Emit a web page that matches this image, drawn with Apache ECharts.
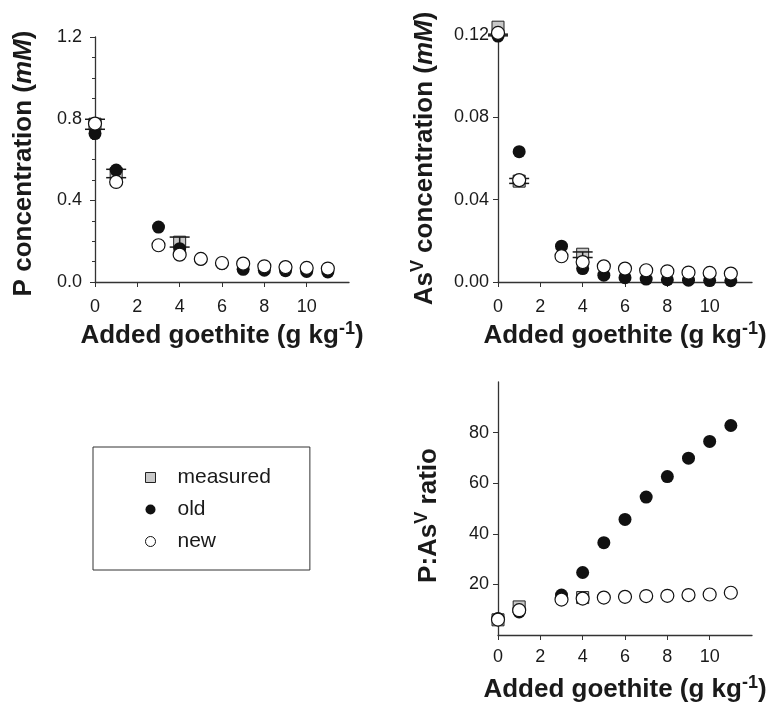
<!DOCTYPE html>
<html>
<head>
<meta charset="utf-8">
<title>P and AsV vs added goethite</title>
<script src="https://cdn.jsdelivr.net/npm/echarts@6/dist/echarts.min.js"></script>
<style>
  html, body { margin: 0; padding: 0; background: #fff; }
  #chart { width: 778px; height: 708px; }
</style>
</head>
<body>
<div id="chart"></div>
<script>
// goethite doses (g kg-1)
const goethite = [0, 1, 3, 4, 5, 6, 7, 8, 9, 10, 11];
const measuredDose = [0, 1, 4];
const xTicks = [0, 2, 4, 6, 8, 10];

// P concentration (mM)
const pOld = [0.727, 0.548, 0.269, 0.163, 0.112, 0.09, 0.062, 0.058, 0.055, 0.052, 0.049];
const pNew = [0.776, 0.49, 0.18, 0.134, 0.113, 0.093, 0.09, 0.077, 0.073, 0.069, 0.066];
const pMeasured = [0.773, 0.53, 0.195];
const pErrLow = [0.748, 0.511, 0.171];
const pErrHigh = [0.797, 0.552, 0.22];

// AsV concentration (mM)
const asOld = [0.1195, 0.0633, 0.0174, 0.0065, 0.0033, 0.0021, 0.0014, 0.0011, 0.0009, 0.0007, 0.0006];
const asNew = [0.121, 0.0495, 0.0125, 0.0097, 0.0076, 0.0065, 0.0057, 0.0052, 0.0046, 0.0044, 0.0041];
const asMeasured = [0.1238, 0.049, 0.0135];
const asErrLow = [0.1196, 0.0479, 0.0119];
const asErrHigh = [0.1204, 0.0503, 0.0146];

// P:AsV ratio
const ratioOld = [6.5, 9.1, 15.8, 24.7, 36.5, 45.7, 54.5, 62.6, 69.9, 76.5, 82.8];
const ratioNew = [6.1, 9.8, 14.0, 14.4, 14.8, 15.1, 15.4, 15.5, 15.8, 16.0, 16.7];
const ratioMeasured = [6.0, 11.1, 14.8];
const ratioTicks = [20, 40, 60, 80];

const ink = "#1a1a1a";
const axisColor = "#333";
const titleFont = "Liberation Sans";

function pairs(xs, ys) {
    return xs.map((x, i) => [x, ys[i]]);
}

function renderErrorBar(params, api) {
    const x = api.value(0);
    const lo = api.coord([x, api.value(1)]);
    const hi = api.coord([x, api.value(2)]);
    const hw = 10;
    const style = { stroke: ink, lineWidth: 1.5 };
    return {
        type: "group",
        children: [
            { type: "line", shape: { x1: lo[0], y1: lo[1], x2: hi[0], y2: hi[1] }, style },
            { type: "line", shape: { x1: lo[0] - hw, y1: lo[1], x2: lo[0] + hw, y2: lo[1] }, style },
            { type: "line", shape: { x1: hi[0] - hw, y1: hi[1], x2: hi[0] + hw, y2: hi[1] }, style }
        ]
    };
}

const titleRich = {
    b: { fontFamily: titleFont, fontWeight: "bold", fontSize: 26, color: ink },
    it: { fontFamily: titleFont, fontWeight: "bold", fontStyle: "italic", fontSize: 26, color: ink },
    sup: { fontFamily: titleFont, fontWeight: "bold", fontSize: 18, color: ink, padding: [0, 0, 14, 0] }
};

function xAxis(index, nameGap, labelMargin) {
    return {
        type: "value",
        gridIndex: index,
        min: 0,
        max: 12,
        interval: 2,
        name: "{b|Added goethite (g kg}{sup|-1}{b|)}",
        nameLocation: "middle",
        nameGap: nameGap,
        nameTextStyle: { rich: titleRich },
        axisLine: { show: true, lineStyle: { color: axisColor, width: 1.3 } },
        axisTick: { show: true, length: 5, customValues: xTicks, lineStyle: { color: axisColor } },
        axisLabel: { customValues: xTicks, margin: labelMargin, fontSize: 18, color: ink, fontFamily: "Liberation Sans" },
        splitLine: { show: false }
    };
}

function yAxis(index, cfg) {
    return Object.assign({
        type: "value",
        gridIndex: index,
        min: 0,
        nameLocation: "middle",
        axisLine: { show: true, lineStyle: { color: axisColor, width: 1.3 } },
        axisTick: { show: true, length: 5, lineStyle: { color: axisColor } },
        axisLabel: { fontSize: 18, color: ink, fontFamily: "Liberation Sans" },
        splitLine: { show: false }
    }, cfg);
}

function panelSeries(index, measured, errLow, errHigh, oldVals, newVals) {
    const list = [
        {
            type: "scatter", name: "measured", xAxisIndex: index, yAxisIndex: index,
            symbol: "rect", symbolSize: 12, z: 2, clip: false,
            itemStyle: { color: "#c8c8c8", borderColor: "#222", borderWidth: 1, opacity: 1 },
            data: pairs(measuredDose, measured)
        }
    ];
    if (errLow) {
        list.push({
            type: "custom", name: "error", xAxisIndex: index, yAxisIndex: index,
            renderItem: renderErrorBar, z: 3, silent: true, clip: false,
            encode: { x: 0, y: [1, 2] },
            data: measuredDose.map((x, i) => [x, errLow[i], errHigh[i]])
        });
    }
    list.push({
        type: "scatter", name: "old", xAxisIndex: index, yAxisIndex: index,
        symbol: "circle", symbolSize: 13, z: 4, clip: false,
        itemStyle: { color: "#111", opacity: 1 },
        data: pairs(goethite, oldVals)
    });
    list.push({
        type: "scatter", name: "new", xAxisIndex: index, yAxisIndex: index,
        symbol: "circle", symbolSize: 13, z: 5, clip: false,
        itemStyle: { color: "#fff", borderColor: "#111", borderWidth: 1.2, opacity: 1 },
        data: pairs(goethite, newVals)
    });
    return list;
}

const chart = echarts.init(document.getElementById("chart"), null, { renderer: "canvas" });

chart.setOption({
    animation: false,
    backgroundColor: "#fff",
    textStyle: { fontFamily: "Liberation Sans" },
    legend: {
        data: ["measured", "old", "new"],
        orient: "vertical",
        left: 93,
        top: 447,
        padding: [20, 39, 18, 52],
        itemGap: 11,
        itemWidth: 10,
        itemHeight: 10,
        borderColor: "#333",
        borderWidth: 1,
        itemStyle: { borderWidth: 1 },
        textStyle: { fontSize: 21, lineHeight: 21, color: ink, padding: [0, 0, 0, 17] }
    },
    grid: [
        { left: 95, top: 37, width: 254, height: 245, outerBoundsMode: "none" },
        { left: 498, top: 35, width: 254, height: 247, outerBoundsMode: "none" },
        { left: 498, top: 382, width: 254, height: 253, outerBoundsMode: "none" }
    ],
    xAxis: [xAxis(0, 38, 16), xAxis(1, 38, 16), xAxis(2, 39, 13)],
    yAxis: [
        yAxis(0, {
            max: 1.2, interval: 0.4,
            name: "{b|P concentration (}{it|mM}{b|)}",
            nameGap: 58,
            nameTextStyle: { rich: titleRich, padding: [0, 8, 0, 0] },
            minorTick: { show: true, splitNumber: 4, length: 3, lineStyle: { color: axisColor } },
            axisLabel: { fontSize: 18, color: ink, margin: 13, formatter: (v) => v.toFixed(1) }
        }),
        yAxis(1, {
            max: 0.12, interval: 0.04,
            name: "{b|As}{sup|V}{b| concentration (}{it|mM}{b|)}",
            nameGap: 57,
            nameTextStyle: { rich: titleRich },
            axisLabel: { fontSize: 18, color: ink, margin: 9, formatter: (v) => v.toFixed(2) }
        }),
        yAxis(2, {
            max: 100, interval: 20,
            name: "{b|P:As}{sup|V}{b| ratio}",
            nameGap: 53,
            nameTextStyle: { rich: titleRich, padding: [0, 14, 0, 0] },
            axisTick: { show: true, length: 5, customValues: ratioTicks, lineStyle: { color: axisColor } },
            axisLabel: { fontSize: 18, color: ink, margin: 9, customValues: ratioTicks }
        })
    ],
    series: [
        ...panelSeries(0, pMeasured, pErrLow, pErrHigh, pOld, pNew),
        ...panelSeries(1, asMeasured, asErrLow, asErrHigh, asOld, asNew),
        ...panelSeries(2, ratioMeasured, null, null, ratioOld, ratioNew)
    ]
});
</script>
</body>
</html>
